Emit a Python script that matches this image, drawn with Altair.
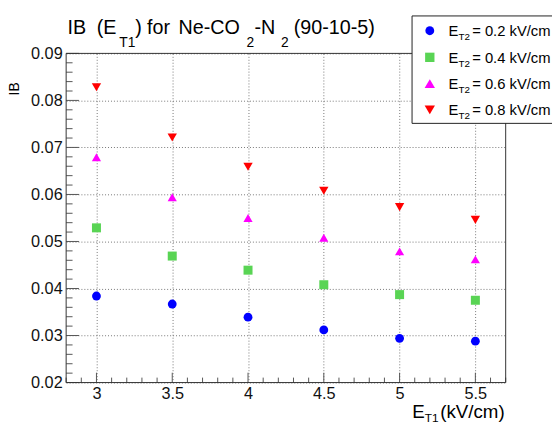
import altair as alt
import pandas as pd
import numpy as np

# ---- data ----
e_t1 = [3.0, 3.5, 4.0, 4.5, 5.0, 5.5]
ib_02 = [0.0384, 0.0367, 0.0339, 0.0312, 0.0294, 0.0288]
ib_04 = [0.0529, 0.0469, 0.0439, 0.0408, 0.0387, 0.0375]
ib_06 = [0.0679, 0.0594, 0.0550, 0.0508, 0.0479, 0.0462]
ib_08 = [0.0828, 0.0721, 0.0659, 0.0608, 0.0573, 0.0546]

series_labels = ["0.2", "0.4", "0.6", "0.8"]
series_values = [ib_02, ib_04, ib_06, ib_08]
colors = ["#0000ff", "#59d454", "#ff00ff", "#ff0000"]
shapes = ["circle", "square", "triangle-up", "triangle-down"]
sizes = [80, 90, 110, 110]

x_major = [3.0, 3.5, 4.0, 4.5, 5.0, 5.5]
y_major = [0.02, 0.03, 0.04, 0.05, 0.06, 0.07, 0.08, 0.09]

rows = []
for lab, vals in zip(series_labels, series_values):
    for x, v in zip(e_t1, vals):
        rows.append({"E_T1": x, "IB": v, "E_T2": lab})
df = pd.DataFrame(rows)

x_minor = [v for v in np.round(np.arange(2.8, 5.7001, 0.1), 3) if all(abs(v - m) > 1e-6 for m in x_major)]
y_minor = [v for v in np.round(np.arange(0.02, 0.09001, 0.002), 4) if all(abs(v - m) > 1e-7 for m in y_major)]

W, H = 446, 334
FONT = "Liberation Sans"
xs = alt.Scale(domain=[2.8, 5.7], nice=False, zero=False)
ys = alt.Scale(domain=[0.02, 0.09], nice=False, zero=False)
x_axis = alt.Axis(values=x_major, format="~g", title=None, labelPadding=3)
y_axis = alt.Axis(values=y_major, format=".2f", title=None, labelPadding=4)
one = alt.Data(values=[{}])

points = alt.Chart(df).mark_point(filled=True, opacity=1, strokeWidth=0).encode(
    x=alt.X("E_T1:Q", scale=xs, axis=x_axis),
    y=alt.Y("IB:Q", scale=ys, axis=y_axis),
    color=alt.Color("E_T2:N", scale=alt.Scale(domain=series_labels, range=colors), legend=None),
    shape=alt.Shape("E_T2:N", scale=alt.Scale(domain=series_labels, range=shapes), legend=None),
    size=alt.Size("E_T2:N", scale=alt.Scale(domain=series_labels, range=sizes), legend=None),
)

tick_color = "#555555"
xt_major = alt.Chart(pd.DataFrame({"E_T1": x_major})).mark_rule(color=tick_color).encode(
    x=alt.X("E_T1:Q", scale=xs, axis=x_axis), y=alt.value(H), y2=alt.value(H - 10))
xt_minor = alt.Chart(pd.DataFrame({"E_T1": x_minor})).mark_rule(color=tick_color).encode(
    x=alt.X("E_T1:Q", scale=xs, axis=x_axis), y=alt.value(H), y2=alt.value(H - 5))
yt_major = alt.Chart(pd.DataFrame({"IB": y_major})).mark_rule(color=tick_color).encode(
    y=alt.Y("IB:Q", scale=ys, axis=y_axis), x=alt.value(0), x2=alt.value(13))
yt_minor = alt.Chart(pd.DataFrame({"IB": y_minor})).mark_rule(color=tick_color).encode(
    y=alt.Y("IB:Q", scale=ys, axis=y_axis), x=alt.value(0), x2=alt.value(6.5))

frame = alt.Chart(one).mark_rect(filled=False, stroke="#333333", strokeWidth=1).encode(
    x=alt.value(0), x2=alt.value(W), y=alt.value(0), y2=alt.value(H))

def txt(s, x, y, size, align="left", angle=0, baseline="alphabetic"):
    kw = dict(text=s, align=align, baseline=baseline, font=FONT, fontSize=size, color="black")
    if angle:
        kw["angle"] = angle
    return alt.Chart(one).mark_text(**kw).encode(x=alt.value(x), y=alt.value(y))

layers = [points, xt_major, xt_minor, yt_major, yt_minor, frame]

# legend box
layers.append(alt.Chart(one).mark_rect(fill="white", stroke="#222222", strokeWidth=1).encode(
    x=alt.value(351), x2=alt.value(520), y=alt.value(-38), y2=alt.value(71)))
leg_y = [-23, 4, 30.7, 57.3]
for lab, col, shp, sz, yc in zip(series_labels, colors, shapes, sizes, leg_y):
    layers.append(alt.Chart(one).mark_point(filled=True, opacity=1, strokeWidth=0, shape=shp,
                                            size=sz, color=col).encode(
        x=alt.value(369), y=alt.value(yc)))
    layers.append(txt("E", 388, yc + 5.5, 15))
    layers.append(txt("T2", 398, yc + 9.5, 10))
    layers.append(txt(f"= {lab} kV/cm", 412, yc + 5.5, 15))

# title pieces
TB, SB = -19.5, -6
TF, SF = 20, 14
layers += [
    txt("IB", 1.3, TB, TF),
    txt("(E", 31, TB, TF),
    txt("T1", 54, SB, SF),
    txt(")", 70, TB, TF),
    txt("for", 82, TB, TF),
    txt("Ne-CO", 114, TB, TF),
    txt("2", 183, SB, SF),
    txt("-N", 191, TB, TF),
    txt("2", 218, SB, SF),
    txt("(90-10-5)", 231, TB, TF),
]

# x axis title
layers += [
    txt("(kV/cm)", 445, 370, 19, align="right"),
    txt("T1", 378, 374.5, 12, align="right"),
    txt("E", 364, 370, 19, align="right"),
]
# y axis title
layers.append(txt("IB", -52, 36, 14, align="center", angle=270, baseline="middle"))

chart = alt.layer(*layers).properties(
    width=W, height=H,
    autosize=alt.AutoSizeParams(type="none"),
    padding={"left": 59, "top": 43, "right": 47, "bottom": 39},
).configure_view(stroke=None).configure_axis(
    grid=True, gridDash=[1, 2], gridColor="#777777", gridWidth=1,
    domain=False, ticks=False,
    labelFont=FONT, labelFontSize=16.5, labelColor="#111111",
)

chart.save("out.html", embed_options={"renderer": "svg", "actions": False})
